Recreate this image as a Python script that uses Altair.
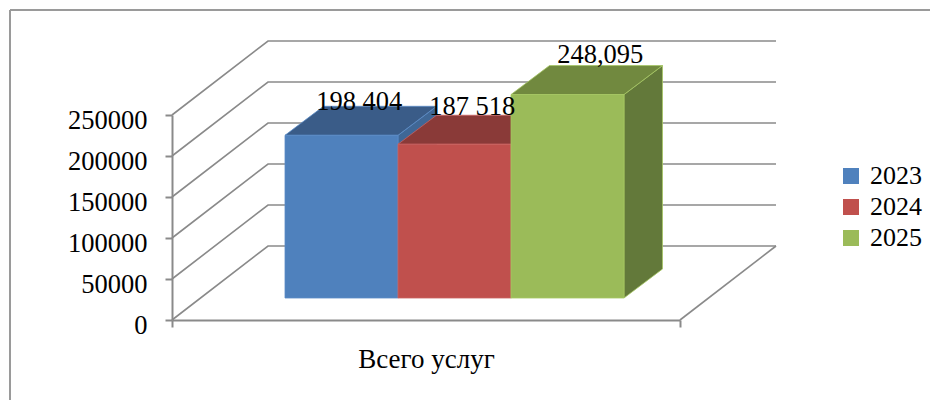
import altair as alt
import pandas as pd

# --- chart values ---
years = ["2023", "2024", "2025"]
values = [198404, 187518, 248095]
value_labels = ["198 404", "187 518", "248,095"]
y_ticks = [0, 50000, 100000, 150000, 200000, 250000]
category = "Всего услуг"

# --- colours ---
front_colors = ["#4F81BD", "#C0504D", "#9BBB59"]
top_colors = ["#3A5C88", "#8A3A38", "#71893F"]
side_colors = ["#3F6796", "#8F3B39", "#63793A"]
edge_colors = ["#5B8CC6", "#C9625F", "#A6C763"]
GRID = "#8A8A8A"
FONT = "Liberation Serif"

# --- layout: plot area is the front plane of the 3D box ---
PW, PH = 508, 205
UNIT = 113.0            # pixels per bar width
YMAX = 250000
u = lambda px: px / UNIT
v = lambda px: px * YMAX / PH
XMAX = u(PW)
WALL_DX, WALL_DY = u(96), v(74)
BAR_DX, BAR_DY = u(38.5), v(29)
BAR_LIFT = v(22)
label_shift_x = [u(-1.5), u(-1.5), u(13.5)]
label_shift_y = [v(-4), v(0), v(3)]

xs = alt.Scale(domain=[0, XMAX], nice=False, zero=False)
ys = alt.Scale(domain=[0, YMAX], nice=False, zero=False)
x_axis = alt.Axis(
    values=[0, XMAX], labels=False, grid=False, tickSize=7, tickWidth=2, tickColor=GRID,
    domainColor=GRID, domainWidth=2, title=category, titleFont=FONT, titleFontSize=27,
    titleFontWeight="normal", titleColor="#000000", titlePadding=18)
y_axis = alt.Axis(
    values=y_ticks, format="d", grid=False, tickSize=7, tickWidth=2, tickColor=GRID,
    domainColor=GRID, domainWidth=2, title=None, labelFont=FONT, labelFontSize=26.5,
    labelColor="#000000", labelPadding=18, labelOffset=5)
X = lambda f: alt.X(f, type="quantitative", scale=xs, axis=x_axis)
Y = lambda f: alt.Y(f, type="quantitative", scale=ys, axis=y_axis)

# frame of the chart
frame_left = alt.Chart().mark_rule(color="#9A9A9A", strokeWidth=2).encode(
    x=alt.value(-162), y=alt.value(-105), y2=alt.value(285))
frame_top = alt.Chart().mark_rule(color="#9A9A9A", strokeWidth=2).encode(
    x=alt.value(-162), x2=alt.value(758), y=alt.value(-105))

# walls + floor grid
rows = []
for t in y_ticks:
    rows += [dict(k=t, s=0, x=0, y=t),
             dict(k=t, s=1, x=WALL_DX, y=t + WALL_DY),
             dict(k=t, s=2, x=XMAX + WALL_DX, y=t + WALL_DY)]
rows += [dict(k=-1, s=0, x=XMAX, y=0), dict(k=-1, s=1, x=XMAX + WALL_DX, y=WALL_DY)]
grid = alt.Chart(pd.DataFrame(rows)).mark_line(color=GRID, strokeWidth=1.6).encode(
    x=X("x"), y=Y("y"), detail="k:N", order="s:Q")

# bars
layers = [frame_left, frame_top, grid]
color = alt.Color("year:N", scale=alt.Scale(domain=years, range=front_colors),
                  legend=alt.Legend(
                      title=None, orient="none", legendX=666, legendY=48, symbolType="square",
                      symbolSize=256, symbolStrokeWidth=0, labelFont=FONT, labelFontSize=26,
                      labelColor="#000000", labelOffset=6, rowPadding=5))
for i, val in enumerate(values):
    left, right = i + 1.0, i + 2.0
    top = val + BAR_LIFT
    side = pd.DataFrame({"x": [right, right + BAR_DX],
                         "y": [BAR_LIFT, BAR_LIFT + BAR_DY],
                         "y2": [top, top + BAR_DY]})
    cap = pd.DataFrame({"y": [top, top + BAR_DY],
                        "x": [left, left + BAR_DX],
                        "x2": [right, right + BAR_DX]})
    front = pd.DataFrame({"x": [left], "x2": [right], "y": [BAR_LIFT], "y2": [top], "year": [years[i]]})
    layers.append(alt.Chart(side).mark_area(color=side_colors[i], stroke=edge_colors[i], strokeWidth=0.8).encode(
        x=X("x"), y=Y("y"), y2="y2:Q"))
    layers.append(alt.Chart(cap).mark_area(orient="horizontal", color=top_colors[i], stroke=edge_colors[i], strokeWidth=0.8).encode(
        y=Y("y"), x=X("x"), x2="x2:Q"))
    layers.append(alt.Chart(front).mark_rect(stroke=edge_colors[i], strokeWidth=0.8).encode(
        x=X("x"), x2="x2:Q", y=Y("y"), y2="y2:Q", color=color))

# value labels
lab = pd.DataFrame({
    "x": [i + 1.5 + BAR_DX / 2 + label_shift_x[i] for i in range(3)],
    "y": [values[i] + BAR_LIFT + BAR_DY + label_shift_y[i] for i in range(3)],
    "t": value_labels})
layers.append(alt.Chart(lab).mark_text(font=FONT, fontSize=26.5, color="#000000", baseline="alphabetic", align="center").encode(
    x=X("x"), y=Y("y"), text="t:N"))

chart = alt.layer(*layers).properties(
    width=PW, height=PH,
    autosize=alt.AutoSizeParams(type="none"),
    padding={"left": 164, "top": 107, "right": 250, "bottom": 80},
    background="#FFFFFF",
).configure_view(stroke=None)

chart.save("out.html", embed_options={"renderer": "svg", "actions": False})
